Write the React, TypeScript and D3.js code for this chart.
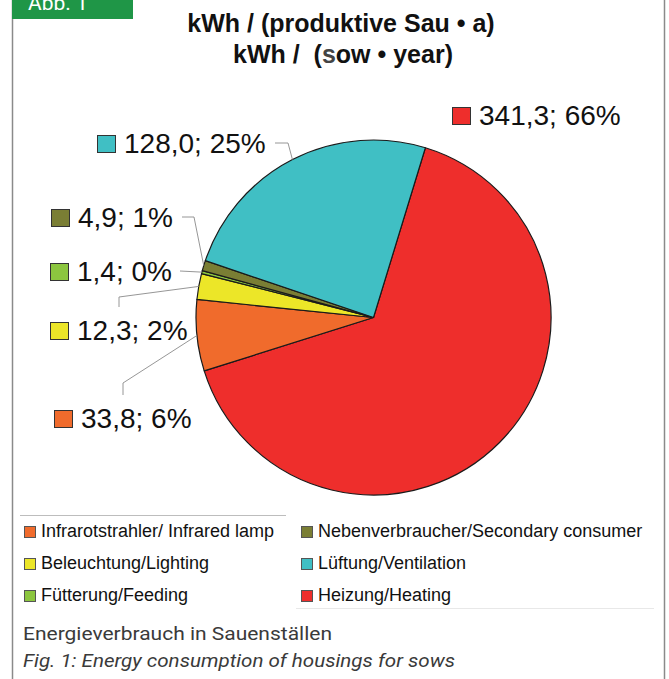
import React from "react";
import * as d3 from "d3";

const categories = [
  "Heizung/Heating",
  "Infrarotstrahler/ Infrared lamp",
  "Beleuchtung/Lighting",
  "Fütterung/Feeding",
  "Nebenverbraucher/Secondary consumer",
  "Lüftung/Ventilation",
];
const values = [341.3, 33.8, 12.3, 1.4, 4.9, 128.0];
const percents = [66, 6, 2, 0, 1, 25];
const colors = ["#ee2e2c", "#f06b2c", "#ece628", "#8cc63f", "#7a7e34", "#40bfc4"];
const legendOrder = [1, 2, 3, 4, 5, 0];

const W = 669;
const H = 679;
const cx = 373.5;
const cy = 317.5;
const R = 177.5;
const startDeg = 17;

// label layout: square x, baseline y, leader elbow points (label side)
const labelLayout: { x: number; y: number; leader: [number, number][] }[] = [
  { x: 452, y: 125, leader: [] },
  { x: 54, y: 428, leader: [[123, 395], [123, 383]] },
  { x: 50, y: 340, leader: [[119, 307], [119, 297]] },
  { x: 50, y: 281, leader: [[180, 271]] },
  { x: 51, y: 227, leader: [[182, 217], [194, 217]] },
  { x: 97, y: 153, leader: [[275, 143], [288, 143]] },
];

const fmt = (v: number) => v.toFixed(1).replace(".", ",");

export default function App() {
  const pie = d3
    .pie<number>()
    .sort(null)
    .startAngle((startDeg * Math.PI) / 180)
    .endAngle((startDeg * Math.PI) / 180 + 2 * Math.PI);
  const arcs = pie(values);
  const arc = d3.arc<d3.PieArcDatum<number>>().innerRadius(0).outerRadius(R);
  const edge = d3.arc<d3.PieArcDatum<number>>().innerRadius(R).outerRadius(R);
  const line = d3.line();

  const legendX = [24, 301];
  const legendY = d3.scalePoint<number>().domain([0, 1, 2]).range([537, 601]);

  return (
    <svg
      width={W}
      height={H}
      style={{ position: "absolute", left: 0, top: 0, background: "#fff" }}
      fontFamily="'Liberation Sans', Arial, sans-serif"
    >
      {/* frame */}
      <line x1={12.5} y1={0} x2={12.5} y2={H} stroke="#8a8a8a" strokeWidth={1.5} />
      <line x1={664.5} y1={0} x2={664.5} y2={H} stroke="#8a8a8a" strokeWidth={1.5} />
      <rect x={12} y={0} width={121} height={19} fill="#1f9647" />
      <text x={28} y={10} fill="#fff" fontSize={21} fontFamily="Roboto, sans-serif">
        Abb. 1
      </text>

      {/* title */}
      <text x={341} y={32} textAnchor="middle" fontSize={25} fontWeight="bold" fill="#111">
        kWh / (produktive Sau • a)
      </text>
      <text
        x={343}
        y={63}
        textAnchor="middle"
        fontSize={25}
        fontWeight="bold"
        fill="#111"
        style={{ whiteSpace: "pre" }}
      >
        {"kWh /  ("}
        <tspan fill="#444">s</tspan>
        {"ow • year)"}
      </text>

      {/* pie */}
      <g transform={`translate(${cx},${cy})`}>
        {arcs.map((a, i) => (
          <path key={i} d={arc(a) || ""} fill={colors[i]} stroke="#1a1a1a" strokeWidth={1.2} strokeLinejoin="round" />
        ))}
      </g>

      {/* leaders */}
      {arcs.map((a, i) => {
        const lay = labelLayout[i];
        if (!lay.leader.length) return null;
        const [ex, ey] = edge.centroid(a);
        const pts: [number, number][] = [...lay.leader, [cx + ex, cy + ey]];
        return <path key={i} d={line(pts) || ""} fill="none" stroke="#8a8a8a" strokeWidth={0.9} />;
      })}

      {/* data labels */}
      {arcs.map((a, i) => {
        const lay = labelLayout[i];
        return (
          <g key={i}>
            <rect x={lay.x + 0.5} y={lay.y - 17.5} width={18} height={17} fill={colors[i]} stroke="#333" strokeWidth={1} />
            <text x={lay.x + 27} y={lay.y} fontSize={28} fill="#111">
              {`${fmt(values[i])}; ${percents[i]}%`}
            </text>
          </g>
        );
      })}

      {/* legend */}
      <line x1={20} y1={515.5} x2={286} y2={515.5} stroke="#bdbdbd" strokeWidth={1} />
      <line x1={296} y1={608.5} x2={654} y2={608.5} stroke="#e8e8e8" strokeWidth={1} />
      {legendOrder.map((idx, k) => {
        const col = Math.floor(k / 3);
        const row = k % 3;
        const x = legendX[col];
        const y = legendY(row) as number;
        return (
          <g key={idx}>
            <rect x={x + 0.5} y={y - 10.5} width={11} height={11} fill={colors[idx]} stroke="#555" strokeWidth={1} />
            <text x={x + 17} y={y} fontSize={18} fill="#111">
              {categories[idx]}
            </text>
          </g>
        );
      })}

      {/* caption */}
      <text x={23} y={640} fontSize={19} fill="#3a3a3a" fontFamily="Roboto, sans-serif" textLength={309} lengthAdjust="spacingAndGlyphs">
        Energieverbrauch in Sauenställen
      </text>
      <text
        x={23}
        y={667}
        fontSize={19}
        fill="#3a3a3a"
        fontStyle="italic"
        fontFamily="Roboto, sans-serif"
        textLength={432}
        lengthAdjust="spacingAndGlyphs"
      >
        Fig. 1: Energy consumption of housings for sows
      </text>
    </svg>
  );
}
